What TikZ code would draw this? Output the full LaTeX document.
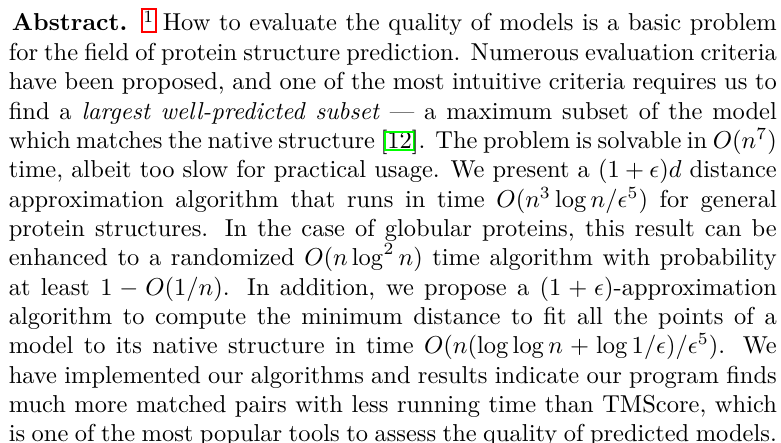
\documentclass[tikz,border=0pt]{standalone}
\usepackage{xcolor}
\newlength\lboxpad
\newcommand\lbox[5]{\begingroup\setlength\fboxsep{0pt}\setlength\fboxrule{0.8pt}\setlength\lboxpad{\dimexpr#4+0.8pt\relax}\hspace{-\lboxpad}\color{#1}\fbox{\rule[-#2]{0pt}{\dimexpr#2+#3\relax}\hspace{#4}\color{black}\smash{#5}\hspace{#4}}\hspace{-\lboxpad}\endgroup}
\tikzset{abstracttext/.style={anchor=base west, inner sep=0pt, text width=314pt, align=justify, font=\fontsize{10}{12}\selectfont}}
\begin{document}
\begin{tikzpicture}
\useasboundingbox (0,0) rectangle (319.3pt,-181.1pt);
\node[abstracttext] (abs) at (3.4pt,-12.67pt) {\hspace*{1.3pt}\textbf{Abstract.}\hspace{6.5pt}\lbox{red}{0.1pt}{8.6pt}{0.3pt}{\textsuperscript{1}} How to evaluate the quality of models is a basic problem\linebreak
for the field of protein structure prediction. Numerous evaluation criteria\linebreak
have been proposed, and one of the most intuitive criteria requires us to\linebreak
find a \emph{largest well-predicted subset} --- a maximum subset of the model\linebreak
which matches the native structure [\lbox{green}{0.1pt}{6.2pt}{0.6pt}{12}]. The problem is solvable in $O(n^7)$\linebreak
time, albeit too slow for practical usage. We present a $(1+\epsilon)d$ distance\linebreak
approximation algorithm that runs in time $O(n^3\log n/\epsilon^5)$ for general\linebreak
protein structures. In the case of globular proteins, this result can be\linebreak
enhanced to a randomized $O(n\log^2 n)$ time algorithm with probability\linebreak
at least $1-O(1/n)$. In addition, we propose a $(1+\epsilon)$-approximation\linebreak
algorithm to compute the minimum distance to fit all the points of a\linebreak
model to its native structure in time $O(n(\log\log n+\log 1/\epsilon)/\epsilon^5)$. We\linebreak
have implemented our algorithms and results indicate our program finds\linebreak
much more matched pairs with less running time than TMScore, which\linebreak
is one of the most popular tools to assess the quality of predicted models.};
\end{tikzpicture}
\end{document}
